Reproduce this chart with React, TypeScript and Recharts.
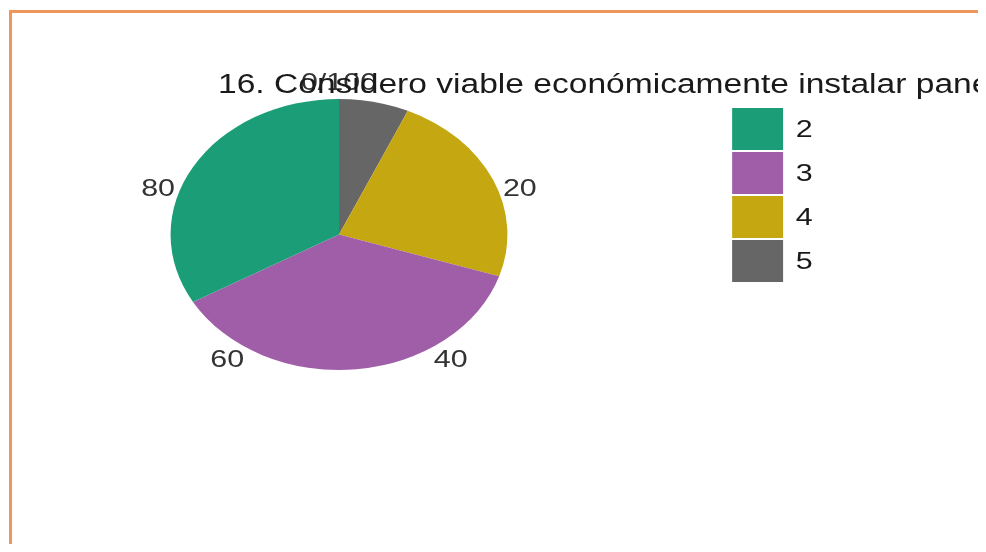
import { PieChart, Pie, Cell, Legend } from 'recharts'

const categories = ['2', '3', '4', '5']
const percents = [33.3, 36.7, 23.3, 6.7]
const sliceColors = ['#1b9e77', '#a15ea8', '#c5a712', '#666666']
const angleTicks = [0, 20, 40, 60, 80]
const title = '16. Considero viable económicamente instalar paneles solares en mi hogar'

// the reference image is stretched sideways, so the chart is drawn narrow and scaled
const STRETCH = 1.243
const FONT = '"Liberation Sans", Arial, sans-serif'
const RAD = Math.PI / 180

// ggplot stacks the last level first, so slices go clockwise 5, 4, 3, 2
const pieData = categories
  .map((name, i) => ({ name, value: percents[i], color: sliceColors[i] }))
  .reverse()

// invisible ring used only to place the polar tick labels
const tickData = angleTicks.map((t, i) => ({
  name: String(t),
  tick: t,
  span: (i < angleTicks.length - 1 ? angleTicks[i + 1] : 100) - t,
}))

const renderTick = (props: any) => {
  const a = -props.startAngle * RAD
  const x = props.cx + props.outerRadius * Math.cos(a)
  const y = props.cy + props.outerRadius * Math.sin(a)
  const v = props.payload.tick
  return (
    <text
      key={`t-${v}`}
      x={x}
      y={y}
      textAnchor="middle"
      dominantBaseline="central"
      fontSize={24.5}
      fontFamily={FONT}
      fill="#333333"
    >
      {v === 0 ? '0/100' : v}
    </text>
  )
}

const renderLegend = (props: any) => {
  const items = [...(props.payload || [])]
    .filter((a: any) => categories.includes(a.value))
    .sort((a: any, b: any) => categories.indexOf(a.value) - categories.indexOf(b.value))
  return (
    <div style={{ fontFamily: FONT }}>
      {items.map((item: any) => (
        <div key={item.value} style={{ display: 'flex', alignItems: 'center', height: 44 }}>
          <div style={{ width: 41.5, height: 42.5, backgroundColor: item.color }} />
          <span style={{ marginLeft: 10, fontSize: 24.5, color: '#1a1a1a' }}>{item.value}</span>
        </div>
      ))}
    </div>
  )
}

export default function App() {
  const cx = 339 / STRETCH
  const cy = 234.5
  const r = 135.5

  return (
    <div style={{ margin: -8, width: 986, height: 552, overflow: 'hidden', position: 'relative', background: '#fff' }}>
      <div
        style={{
          position: 'absolute',
          left: 9,
          top: 10,
          width: 1200,
          height: 800,
          borderTop: '3px solid #f0965a',
          borderLeft: '3px solid #f0965a',
        }}
      />
      <div style={{ position: 'absolute', left: 0, top: 0, width: 978, height: 552, overflow: 'hidden' }}>
        <div style={{ position: 'absolute', left: 0, top: 0, transform: `scaleX(${STRETCH})`, transformOrigin: '0 0' }}>
          <PieChart width={793} height={552} margin={{ top: 0, right: 0, bottom: 0, left: 0 }}>
            <Pie
              data={pieData}
              dataKey="value"
              nameKey="name"
              cx={cx}
              cy={cy}
              outerRadius={r}
              startAngle={90}
              endAngle={-270}
              stroke="none"
              isAnimationActive={false}
            >
              {pieData.map((d) => (
                <Cell key={d.name} fill={d.color} />
              ))}
            </Pie>
            <Pie
              data={tickData}
              dataKey="span"
              nameKey="name"
              cx={cx}
              cy={cy}
              innerRadius={r + 17}
              outerRadius={r + 17.5}
              startAngle={90}
              endAngle={-270}
              fill="none"
              stroke="none"
              legendType="none"
              label={renderTick}
              labelLine={false}
              isAnimationActive={false}
            />
            <Legend
              layout="vertical"
              verticalAlign="top"
              align="right"
              content={renderLegend}
              wrapperStyle={{ left: 588.6, top: 107, width: 120 }}
            />
          </PieChart>
          <div
            style={{
              position: 'absolute',
              left: 175.4,
              top: 71,
              fontFamily: FONT,
              fontSize: 27,
              lineHeight: 1,
              whiteSpace: 'nowrap',
              color: '#1a1a1a',
            }}
          >
            {title}
          </div>
        </div>
      </div>
    </div>
  )
}
